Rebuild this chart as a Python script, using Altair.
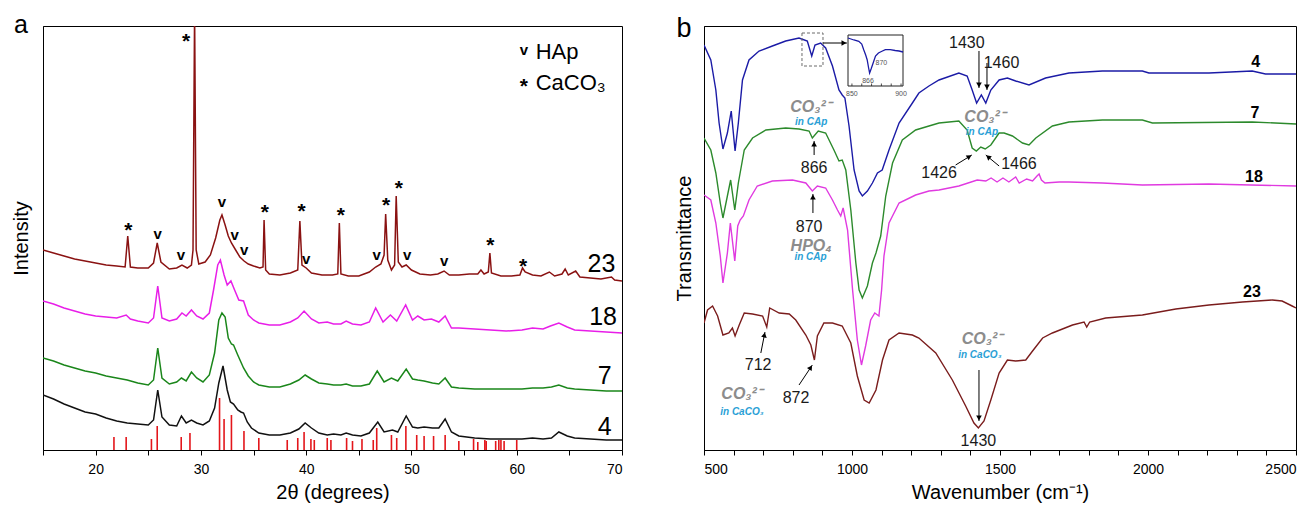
import math
import altair as alt
import pandas as pd

FONT = "Liberation Sans"

# ---------------- Panel a : XRD (2theta in degrees, intensity in arbitrary units) ----------------
xrd4_x = [15, 16, 17, 18, 19, 20, 21, 22, 23, 24, 25, 25.5, 25.9, 26.3, 27, 27.7, 28.15, 28.6, 29.1, 29.6,
          30.2, 30.8, 31.3, 31.7, 32.1, 32.5, 32.8, 33.1, 33.5, 33.8, 34.05, 34.4, 34.8, 35.5, 36.5, 37.5,
          38.5, 39.3, 39.9, 40.5, 41.2, 42, 42.6, 43.3, 43.8, 44.4, 45.2, 46.0, 46.8, 47.4, 48.2, 48.7,
          49.5, 50.1, 50.6, 51.2, 52.0, 52.6, 53.2, 53.8, 54.5, 56, 57.5, 59, 60.5, 61.5, 62.5, 63.3, 64.0,
          64.8, 65.5, 67, 68.5, 70]
xrd4_y = [55, 51, 46, 42, 38, 36, 32, 29, 27, 26, 25, 30, 60, 33, 25, 24, 34, 27, 30, 27,
          25, 29, 42, 67, 84, 60, 48, 46, 40, 38, 37, 28, 22, 17, 15, 15,
          17, 21, 27, 22, 17, 15, 16, 15, 17, 15, 14, 17, 28, 18, 20, 18,
          34, 23, 22, 23, 22, 22, 31, 18, 14, 12, 11, 11, 11, 12, 11, 12, 18,
          14, 12, 11, 10, 10]

xrd7_x = [15, 16, 17, 18, 19, 20, 21, 22, 23, 24, 25, 25.5, 25.9, 26.3, 27, 27.7, 28.15, 28.6, 29.1, 29.6,
          30.2, 30.8, 31.3, 31.7, 32.0, 32.3, 32.6, 32.9, 33.1, 33.5, 34.05, 34.5, 35.0, 35.5, 36.5, 37.5,
          38.5, 39.3, 39.9, 40.5, 41.2, 42, 42.6, 43.3, 43.8, 44.4, 45.2, 46.0, 46.75, 47.4, 48.1, 48.7,
          49.5, 50.1, 50.6, 51.2, 52.0, 52.6, 53.2, 53.8, 54.5, 56, 57.5, 59, 60.5, 61.5, 62.5, 63.3, 64.0,
          64.8, 65.5, 67, 68.5, 70]
xrd7_y = [92, 89, 85, 82, 79, 77, 74, 72, 70, 67, 65, 70, 102, 72, 66, 68, 72, 69, 78, 72,
          68, 75, 97, 130, 137, 133, 112, 106, 105, 95, 82, 74, 68, 65, 63, 63,
          66, 70, 75, 71, 67, 66, 65, 65, 66, 64, 64, 66, 79, 68, 72, 69,
          81, 71, 70, 69, 67, 66, 72, 63, 62, 61, 61, 61, 61, 62, 62, 63, 65,
          62, 61, 60, 59, 59]

xrd18_x = [15, 16, 17, 18, 19, 20, 21, 22, 22.9, 23.3, 24, 25, 25.5, 25.9, 26.3, 27, 27.7, 28.2, 28.6, 29.1,
           29.6, 30.2, 30.8, 31.2, 31.6, 31.85, 32.2, 32.5, 32.85, 33.2, 33.6, 34.05, 34.5, 35.0, 35.5, 36.5,
           37.5, 38.5, 39.2, 39.8, 40.5, 41.2, 42, 42.6, 43.3, 43.8, 44.4, 45.2, 46.0, 46.6, 47.3, 48.0,
           48.6, 49.45, 50.1, 50.6, 51.2, 51.9, 52.6, 53.2, 53.8, 54.5, 56, 57.5, 59, 60.5, 61.5, 62.5,
           63.2, 64.0, 64.8, 65.5, 67, 68.5, 70]
xrd18_y = [149, 146, 142, 139, 136, 134, 133, 132, 135, 131, 129, 127, 132, 164, 132, 129, 131, 137, 134, 140,
           134, 131, 137, 160, 185, 190, 175, 165, 169, 160, 150, 149, 135, 130, 127, 125,
           125, 128, 132, 139, 131, 127, 128, 126, 126, 129, 126, 125, 128, 142, 128, 135,
           129, 145, 130, 134, 130, 131, 128, 134, 122, 122, 121, 120, 119, 120, 122, 121,
           124, 127, 123, 120, 119, 118, 117]

xrd23_x = [15, 16, 17, 18, 19, 20, 21, 22, 22.8, 23.05, 23.3, 24, 25, 25.5, 25.85, 26.2, 27, 27.7, 28.2,
           28.7, 29.1, 29.25, 29.4, 29.55, 29.8, 30.4, 30.9, 31.4, 31.8, 32.0, 32.3, 32.6, 32.9, 33.3,
           33.7, 34.1, 34.5, 35.0, 35.6, 35.9, 36.0, 36.15, 36.5, 37.5, 38.5, 39.2, 39.4, 39.6, 40.0,
           40.5, 41.5, 42.5, 43.0, 43.15, 43.3, 44, 45, 46, 46.6, 47.1, 47.4, 47.55, 47.75, 48.1, 48.4,
           48.55, 48.75, 49.1, 49.5, 50, 50.8, 51.8, 52.5, 53.1, 53.6, 54.5, 55.5, 56.3, 56.6, 56.9,
           57.3, 57.45, 57.6, 58.5, 59.5, 60.3, 60.55, 60.8, 61.5, 62.3, 63.1, 63.6, 64.3, 64.6, 64.9,
           65.6, 66.0, 67, 68, 69, 69.3, 70]
xrd23_y = [200, 197, 194, 191, 189, 187, 185, 184, 183, 214, 183, 182, 182, 187, 207, 188, 181, 182, 185,
           182, 185, 200, 440, 200, 186, 188, 195, 212, 230, 235, 225, 214, 207, 200,
           193, 189, 186, 184, 182, 183, 230, 180, 176, 175, 177, 180, 229, 185, 182,
           177, 175, 175, 176, 227, 176, 174, 174, 178, 183, 186, 195, 236, 190, 180, 185,
           254, 188, 183, 185, 180, 176, 175, 176, 179, 175, 175, 176, 176, 180, 176,
           178, 197, 177, 174, 174, 175, 182, 178, 175, 174, 178, 174, 176, 181, 175,
           179, 173, 172, 171, 173, 170, 169]

# HAp reference pattern (stick positions and heights)
stick_x = [21.74, 22.9, 25.3, 25.85, 28.13, 28.96, 31.77, 32.2, 32.9, 34.09, 35.5, 38.2, 39.2, 39.8,
           40.45, 40.77, 42.0, 42.35, 43.84, 44.4, 45.3, 46.37, 46.7, 48.1, 48.6, 49.47, 50.5, 51.2,
           52.1, 53.2, 54.5, 55.9, 56.3, 56.97, 57.1, 58.0, 58.3, 58.5, 58.8, 60.0]
stick_h = [13, 13, 11, 24, 13, 17, 52, 31, 35, 19, 12, 10, 12, 18,
           11, 10, 12, 10, 12, 9, 11, 10, 22, 15, 12, 24, 15, 14,
           14, 15, 9, 11, 8, 10, 9, 9, 10, 10, 9, 10]

# peak markers
hap_x = [25.9, 28.1, 32.0, 33.2, 34.1, 40.0, 46.7, 49.6, 53.1]
hap_y = [215, 194, 247, 214, 199, 190, 194, 194, 188]
cc_x = [23.1, 28.6, 36.07, 39.57, 43.3, 47.6, 48.8, 57.5, 60.6]
cc_y = [225, 414, 243, 244, 240, 250, 267, 210, 189]

xrd_names = ["4", "7", "18", "23"]
xrd_colors = ["#111111", "#1a861a", "#e81ee8", "#8a1212"]
xrd_label_x = [68.35, 68.35, 68.2, 68.05]
xrd_label_y = [24, 75, 134, 187]

# ---------------- Panel b : FTIR (wavenumber, transmittance in arbitrary units) ----------------
ft4_x = [500, 523, 540, 551, 564, 579, 592, 605, 616, 630, 652, 686, 731, 776, 821, 849, 864, 875, 894, 911,
         934, 956, 967, 976, 990, 1007, 1024, 1035, 1052, 1069, 1086, 1102, 1125, 1159, 1204, 1226, 1260,
         1294, 1361, 1389, 1406, 1421, 1437, 1452, 1469, 1497, 1525, 1553, 1598, 1654, 1733, 1846, 1981,
         2003, 2206, 2352, 2397, 2500]
ft4_y = [405, 390, 360, 327, 301, 317, 339, 299, 327, 370, 390, 399, 404, 409, 412, 409, 394, 405, 407, 402,
         384, 360, 355, 352, 324, 280, 259, 254, 259, 267, 277, 280, 300, 327, 347, 357, 364,
         370, 377, 374, 360, 347, 355, 347, 360, 370, 372, 369, 365, 372, 377, 379, 379,
         377, 377, 379, 376, 376]

ft7_x = [500, 523, 540, 555, 564, 579, 590, 604, 616, 636, 664, 709, 776, 821, 855, 866, 886, 911, 939, 956,
         967, 979, 996, 1013, 1024, 1035, 1052, 1069, 1081, 1097, 1114, 1137, 1170, 1215, 1260, 1294, 1361,
         1389, 1406, 1420, 1435, 1450, 1469, 1497, 1514, 1542, 1576, 1598, 1621, 1677, 1733, 1846, 1981,
         2015, 2352, 2500]
ft7_y = [312, 300, 277, 247, 232, 254, 270, 240, 267, 300, 312, 320, 322, 321, 319, 312, 319, 317, 300, 289,
         290, 280, 240, 187, 160, 152, 164, 187, 197, 214, 254, 287, 310, 320, 324, 327, 329,
         320, 302, 299, 303, 301, 305, 317, 317, 314, 307, 305, 312, 324, 328, 330, 330,
         327, 328, 326]

ft18_x = [500, 523, 540, 555, 564, 579, 589, 604, 614, 622, 633, 652, 680, 731, 799, 844, 866, 883, 911, 934,
          951, 962, 970, 985, 1002, 1018, 1032, 1046, 1063, 1077, 1091, 1100, 1108, 1125, 1159, 1215, 1260,
          1294, 1361, 1423, 1452, 1470, 1490, 1510, 1530, 1553, 1565, 1590, 1610, 1625, 1632, 1640, 1652,
          1700, 1733, 1846, 1981, 2206, 2500]
ft18_y = [255, 250, 227, 194, 167, 197, 227, 189, 224, 230, 234, 250, 264, 269, 270, 267, 259, 264, 262, 250,
          240, 234, 242, 220, 160, 110, 85, 104, 130, 137, 134, 160, 194, 227, 247, 255, 259,
          260, 264, 270, 269, 272, 268, 272, 268, 273, 267, 271, 269, 274, 276, 270, 267,
          268, 268, 267, 265, 266, 264]

ft23_x = [500, 512, 529, 546, 564, 584, 596, 605, 619, 636, 664, 698, 712, 722, 754, 788, 810, 844, 861, 873,
          883, 905, 934, 967, 996, 1018, 1041, 1058, 1081, 1103, 1125, 1159, 1204, 1226, 1283, 1339, 1384,
          1412, 1427, 1446, 1469, 1497, 1525, 1553, 1587, 1610, 1644, 1677, 1745, 1784, 1793, 1803, 1857,
          1981, 2094, 2206, 2319, 2420, 2453, 2487, 2500]
ft23_y = [127, 140, 144, 134, 115, 117, 122, 114, 125, 137, 136, 134, 123, 142, 137, 136, 130, 115, 105, 90,
          114, 127, 127, 124, 107, 74, 50, 47, 60, 90, 110, 117, 115, 112, 97, 70, 44,
          27, 22, 29, 50, 77, 90, 89, 90, 99, 112, 117, 125, 128, 123, 128, 132,
          135, 141, 145, 148, 150, 149, 144, 142]

ft_names = ["S4", "S7", "S18", "S23"]
ft_colors = ["#1b1ba6", "#2c8a2c", "#e03ae0", "#7a1c1c"]
ft_label_text = ["4", "7", "18", "23"]
ft_label_x = [2364, 2361, 2358, 2351]
ft_label_y = [389, 338, 274, 159]

# annotation numbers
num_text = ["1430", "1460", "1426", "1466", "1430", "866", "870", "712", "872"]
num_x = [1388, 1505, 1294, 1564, 1427, 872, 855, 683, 811]
num_y = [408, 388, 278, 287, 10, 283, 224, 86, 53]

# arrows (start -> end)
arr_x1 = [1429, 1456, 1350, 1497, 1429, 872, 868, 692, 821, 902]
arr_y1 = [399, 387, 285, 284, 80, 295, 237, 97, 65, 407]
arr_x2 = [1429, 1456, 1405, 1452, 1429, 872, 868, 706, 866, 983]
arr_y2 = [362, 360, 295, 295, 29, 309, 256, 118, 85, 407]

# species labels
sp_text = ["CO₃²⁻", "CO₃²⁻", "CO₃²⁻", "CO₃²⁻", "HPO₄"]
sp_x = [860, 1448, 1439, 627, 862]
sp_y = [344, 334, 112, 57, 205]
in_text = ["in CAp", "in CAp", "in CaCO₃", "in CaCO₃", "in CAp"]
in_x = [862, 1439, 1432, 628, 860]
in_y = [328, 318, 95, 38, 193]

# dashed box around the 866 band of sample 4
box_x = [831]
box_x2 = [902]
box_y = [384]
box_y2 = [417]

# inset (850-900 cm-1 zoom of sample 4)
ins_x = [846, 852, 857, 860, 862, 864, 865.5, 867, 868, 869.5, 871, 874, 877, 880, 884, 889, 894, 898, 902]
ins_y = [48, 46, 44.7, 42, 36.3, 31, 26.3, 18, 13, 17, 21.3, 30, 33, 34.5, 36.3, 36.3, 35.5, 35, 34]
ins_tick_x = [850, 860, 870, 880, 890, 900]
ins_lab_text = ["850", "900", "870", "866"]
ins_lab_x = [850, 900, 880, 866.4]
ins_lab_y = [-7, -7, 24, 6]

# ---------------- helpers ----------------
BLACK = "black"

def txt(size, **kw):
    return dict(font=FONT, fontSize=size, baseline="alphabetic", **kw)

# ---------------- Panel a ----------------
axis_xa = alt.Axis(values=list(range(15, 71, 5)),
                   labelExpr="datum.value % 10 == 0 && datum.value > 15 ? datum.label : ''",
                   title="2θ (degrees)", grid=False, tickSize=5, labelPadding=7, titlePadding=6,
                   labelFontSize=14, titleFontSize=20, titleFontWeight="normal", labelFont=FONT,
                   titleFont=FONT, domainColor=BLACK, tickColor=BLACK, labelColor=BLACK, titleColor=BLACK)
axis_ya = alt.Axis(title="Intensity", labels=False, ticks=False, grid=False, titlePadding=12,
                   titleFontSize=20, titleFontWeight="normal", titleFont=FONT, domainColor=BLACK,
                   titleColor=BLACK)
XA = alt.X("x:Q", scale=alt.Scale(domain=[15, 70], nice=False, zero=False), axis=axis_xa)
YA = alt.Y("y:Q", scale=alt.Scale(domain=[0, 424], nice=False, zero=False), axis=axis_ya)

rows = []
for name, xs, ys in zip(xrd_names, [xrd4_x, xrd7_x, xrd18_x, xrd23_x], [xrd4_y, xrd7_y, xrd18_y, xrd23_y]):
    for a, b in zip(xs, ys):
        rows.append({"x": a, "y": b, "sa": name})
df_xrd = pd.DataFrame(rows)

lines_a = alt.Chart(df_xrd).mark_line(strokeWidth=1.5, clip=True).encode(
    x=XA, y=YA,
    color=alt.Color("sa:N", scale=alt.Scale(domain=xrd_names, range=xrd_colors), legend=None),
    detail="sa:N")

df_st = pd.DataFrame({"x": stick_x, "y": [0] * len(stick_x), "y2": stick_h})
sticks = alt.Chart(df_st).mark_rule(color="#e3161b", strokeWidth=1.6).encode(x=XA, y=YA, y2="y2:Q")

df_hap = pd.DataFrame({"x": hap_x, "y": hap_y, "t": ["v"] * len(hap_x)})
hap_marks = alt.Chart(df_hap).mark_text(**txt(15, fontWeight="bold", dy=3.9, color=BLACK)).encode(
    x=XA, y=YA, text="t:N")
df_cc = pd.DataFrame({"x": cc_x, "y": cc_y, "t": ["*"] * len(cc_x)})
cc_marks = alt.Chart(df_cc).mark_text(**txt(21, fontWeight="bold", dy=12, color=BLACK)).encode(
    x=XA, y=YA, text="t:N")

df_leg_sym = pd.DataFrame({"x": [60.68, 60.68], "y": [399, 369], "t": ["v", "*"]})
leg_v = alt.Chart(df_leg_sym.iloc[[0]]).mark_text(**txt(15, fontWeight="bold", dy=3.9, color=BLACK)).encode(
    x=XA, y=YA, text="t:N")
leg_s = alt.Chart(df_leg_sym.iloc[[1]]).mark_text(**txt(21, fontWeight="bold", dy=12, color=BLACK)).encode(
    x=XA, y=YA, text="t:N")
df_leg_txt = pd.DataFrame({"x": [61.8, 61.8], "y": [399, 368], "t": ["HAp", "CaCO₃"]})
leg_t = alt.Chart(df_leg_txt).mark_text(**txt(22, align="left", dy=8, color=BLACK)).encode(
    x=XA, y=YA, text="t:N")

df_lab_a = pd.DataFrame({"x": xrd_label_x, "y": xrd_label_y, "t": xrd_names})
labels_a = alt.Chart(df_lab_a).mark_text(**txt(25, align="center", dy=9, color=BLACK)).encode(
    x=XA, y=YA, text="t:N")

tag_a = alt.Chart(pd.DataFrame({"t": ["a"]})).mark_text(**txt(25, align="center", color=BLACK)).encode(
    x=alt.value(-22), y=alt.value(7), text="t:N")

panel_a = alt.layer(sticks, lines_a, hap_marks, cc_marks, leg_v, leg_s, leg_t, labels_a, tag_a).properties(
    width=579, height=424)

# ---------------- Panel b ----------------
axis_xb = alt.Axis(values=list(range(500, 2501, 100)), format="d",
                   labelExpr="datum.value % 500 == 0 ? datum.label : ''",
                   title="Wavenumber (cm⁻¹)", grid=False, tickSize=5, labelPadding=7, titlePadding=6,
                   labelFontSize=14, titleFontSize=20, titleFontWeight="normal", labelFont=FONT,
                   titleFont=FONT, domainColor=BLACK, tickColor=BLACK, labelColor=BLACK, titleColor=BLACK)
axis_yb = alt.Axis(title="Transmittance", labels=False, ticks=False, grid=False, titlePadding=10,
                   titleFontSize=20, titleFontWeight="normal", titleFont=FONT, domainColor=BLACK,
                   titleColor=BLACK)
XB = alt.X("x:Q", scale=alt.Scale(domain=[500, 2500], nice=False, zero=False), axis=axis_xb)
YB = alt.Y("y:Q", scale=alt.Scale(domain=[0, 424], nice=False, zero=False), axis=axis_yb)

rows = []
for name, xs, ys in zip(ft_names, [ft4_x, ft7_x, ft18_x, ft23_x], [ft4_y, ft7_y, ft18_y, ft23_y]):
    for a, b in zip(xs, ys):
        rows.append({"x": a, "y": b, "sb": name})
df_ft = pd.DataFrame(rows)
lines_b = alt.Chart(df_ft).mark_line(strokeWidth=1.4, clip=True).encode(
    x=XB, y=YB,
    color=alt.Color("sb:N", scale=alt.Scale(domain=ft_names, range=ft_colors), legend=None),
    detail="sb:N")

PXB = 592 / 2000.0
heads = []
for x1, y1, x2, y2 in zip(arr_x1, arr_y1, arr_x2, arr_y2):
    dx = (x2 - x1) * PXB
    dy = (y2 - y1)
    L = math.hypot(dx, dy)
    ang = math.degrees(math.atan2(dx, dy)) % 360
    back = 3.0
    heads.append({"x": x2 - dx / L * back / PXB, "y": y2 - dy / L * back, "a": ang})
df_arr = pd.DataFrame({"x": arr_x1, "y": arr_y1, "x2": arr_x2, "y2": arr_y2})
arr_lines = alt.Chart(df_arr).mark_rule(color=BLACK, strokeWidth=1).encode(
    x=XB, y=YB, x2="x2:Q", y2="y2:Q")
arr_heads = alt.Chart(pd.DataFrame(heads)).mark_point(
    shape="triangle-up", filled=True, color=BLACK, size=32, opacity=1).encode(
    x=XB, y=YB, angle=alt.Angle("a:Q", scale=None))

df_box = pd.DataFrame({"x": box_x, "x2": box_x2, "y": box_y, "y2": box_y2})
dbox = alt.Chart(df_box).mark_rect(fillOpacity=0, stroke="#6a6a6a", strokeWidth=1,
                                   strokeDash=[3, 2]).encode(x=XB, x2="x2:Q", y=YB, y2="y2:Q")

df_num = pd.DataFrame({"x": num_x, "y": num_y, "t": num_text})
nums = alt.Chart(df_num).mark_text(**txt(16, align="center", dy=5.8, color="#1a1a1a")).encode(
    x=XB, y=YB, text="t:N")
df_sp = pd.DataFrame({"x": sp_x, "y": sp_y, "t": sp_text})
sps = alt.Chart(df_sp).mark_text(**txt(16, align="center", dy=5.8, fontStyle="italic",
                                       fontWeight="bold", color="#8c8c8c")).encode(
    x=XB, y=YB, text="t:N")
df_in = pd.DataFrame({"x": in_x, "y": in_y, "t": in_text})
ins_t = alt.Chart(df_in).mark_text(**txt(10, align="center", dy=3.3, fontStyle="italic",
                                         fontWeight="bold", color="#2a9fd6")).encode(
    x=XB, y=YB, text="t:N")
df_lab_b = pd.DataFrame({"x": ft_label_x, "y": ft_label_y, "t": ft_label_text})
labels_b = alt.Chart(df_lab_b).mark_text(**txt(16, align="center", dy=5.8, fontWeight="bold",
                                            color=BLACK)).encode(x=XB, y=YB, text="t:N")
tag_b = alt.Chart(pd.DataFrame({"t": ["b"]})).mark_text(**txt(27, align="center", color=BLACK)).encode(
    x=alt.value(-20), y=alt.value(11), text="t:N")

main_b = alt.layer(lines_b, dbox, arr_lines, arr_heads, nums, sps, ins_t, labels_b, tag_b)

# inset with its own scales placed inside the plot area
XI = alt.X("x:Q", scale=alt.Scale(domain=[846, 902], range=[144, 199], nice=False, zero=False), axis=None)
YI = alt.Y("y:Q", scale=alt.Scale(domain=[0, 51], range=[60, 9], nice=False, zero=False), axis=None)
ins_frame = alt.Chart(pd.DataFrame({"x": [846], "x2": [902], "y": [0], "y2": [51]})).mark_rect(
    fill="white", stroke="#222222", strokeWidth=1).encode(x=XI, x2="x2:Q", y=YI, y2="y2:Q")
ins_line = alt.Chart(pd.DataFrame({"x": ins_x, "y": ins_y})).mark_line(
    color=ft_colors[0], strokeWidth=1.3).encode(x=XI, y=YI)
ins_ticks = alt.Chart(pd.DataFrame({"x": ins_tick_x, "y": [0] * len(ins_tick_x),
                                    "y2": [2.5] * len(ins_tick_x)})).mark_rule(
    color="#222222", strokeWidth=0.8).encode(x=XI, y=YI, y2="y2:Q")
ins_labs = alt.Chart(pd.DataFrame({"x": ins_lab_x, "y": ins_lab_y, "t": ins_lab_text})).mark_text(
    **txt(7, align="center", dy=2.5, color="#555555")).encode(x=XI, y=YI, text="t:N")
inset_b = alt.layer(ins_frame, ins_line, ins_ticks, ins_labs)

panel_b = alt.layer(main_b, inset_b).resolve_scale(x="independent", y="independent").properties(
    width=592, height=424)

chart = alt.hconcat(panel_a, panel_b, spacing=50).resolve_scale(color="independent").properties(
    padding={"left": 2, "top": 4, "right": 0, "bottom": 0}
).configure(font=FONT).configure_view(stroke=BLACK, strokeWidth=1)

chart.save("out.html", embed_options={"renderer": "svg", "actions": False})
